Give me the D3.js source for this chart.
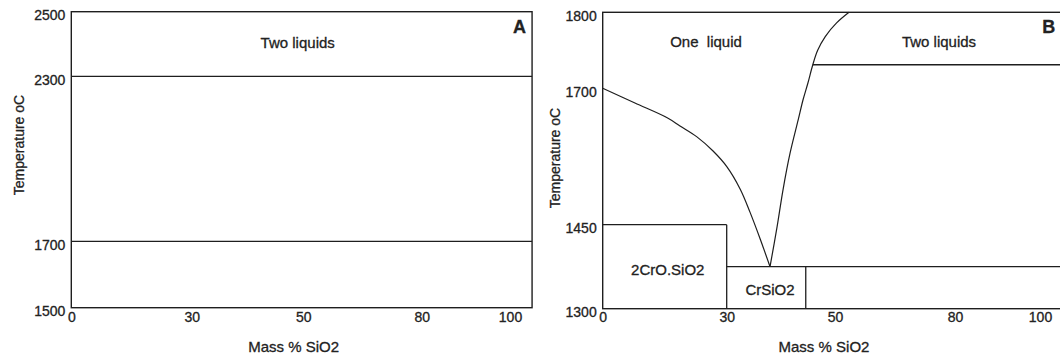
<!DOCTYPE html>
<html>
<head>
<meta charset="utf-8">
<script src="https://cdn.jsdelivr.net/npm/d3@7"></script>
<style>
  html, body { margin: 0; padding: 0; background: #fff; }
  svg { display: block; }
  text { font-family: "Liberation Sans", Arial, sans-serif; fill: #222; stroke: #222; stroke-width: 0.3px; }
</style>
</head>
<body>
<svg id="chart" width="1060" height="356"></svg>
<script>
// ---------- data ----------
const xTickValues = [0, 30, 50, 80, 100];
const xFrameMax = 105;                      // frame extends slightly past 100
const aTempTicks = [1500, 1700, 2300, 2500];
const bTempTicks = [1300, 1450, 1700, 1800];
const aIsotherms = [2300, 1700];
const aRegionLabels = [{ text: "Two liquids", x: 49, t: 2388 }];
const bLiquidusLeft = [
  [0, 1700], [7.8, 1673], [15.6, 1646], [18.7, 1631], [22.8, 1611],
  [26.7, 1585], [30.05, 1556], [32.5, 1515], [34.3, 1473], [36.2, 1424], [38, 1375]
];
const bLiquidusRight = [
  [38, 1375], [39.3, 1446], [40.4, 1514], [41.7, 1581], [43.2, 1642],
  [44.1, 1679], [45.0, 1707], [45.9, 1731], [46.8, 1750], [48.2, 1768],
  [50.4, 1786], [53.5, 1800]
];
const bBoundaries = [
  { x1: 0, t1: 1450, x2: 30, t2: 1450 },
  { x1: 30, t1: 1300, x2: 30, t2: 1450 },
  { x1: 30, t1: 1375, x2: 105, t2: 1375 },
  { x1: 44.6, t1: 1300, x2: 44.6, t2: 1375 },
  { x1: 45.9, t1: 1731, x2: 105, t2: 1731 }
];
const bRegionLabels = [
  { text: "One  liquid", x: 25, t: 1755 },
  { text: "Two liquids", x: 76, t: 1755 },
  { text: "2CrO.SiO2", x: 15.75, t: 1360 },
  { text: "CrSiO2", x: 38, t: 1324 }
];
const xTitle = "Mass % SiO2";
const yTitle = "Temperature oC";

// ---------- drawing ----------
const svg = d3.select("#chart");
const ink = "#1e1e1e";

function panel(opts) {
  const { xRange, yDomain, yRange, yTicks, letter, titleX, titleY, xPad } = opts;
  const x = d3.scaleLinear().domain(xTickValues).range(xRange);
  const y = d3.scaleLinear().domain(yDomain).range(yRange);
  const g = svg.append("g");
  const tMin = yDomain[0], tMax = yDomain[yDomain.length - 1];

  // frame
  g.append("rect")
    .attr("x", x(0)).attr("y", y(tMax))
    .attr("width", x(xFrameMax) - x(0)).attr("height", y(tMin) - y(tMax))
    .attr("fill", "none").attr("stroke", ink).attr("stroke-width", 1.4);

  // y axis labels
  const ya = g.append("g").attr("transform", `translate(${x(0)},0)`)
    .call(d3.axisLeft(y).tickValues(yTicks).tickSize(0).tickPadding(6).tickFormat(d3.format("d")));
  ya.select(".domain").remove();
  ya.selectAll("text").style("font-size", "14px").attr("dy", "0.55em")
    .style("font-family", "Liberation Sans, Arial, sans-serif").attr("fill", "#222");

  // x axis labels
  const xa = g.append("g").attr("transform", `translate(0,${y(tMin)})`)
    .call(d3.axisBottom(x).tickValues(xTickValues).tickSize(0).tickPadding(xPad).tickFormat(d3.format("d")));
  xa.select(".domain").remove();
  xa.selectAll("text").style("font-size", "14px")
    .style("font-family", "Liberation Sans, Arial, sans-serif").attr("fill", "#222");

  // axis titles
  g.append("text").attr("x", (x(0) + x(xFrameMax)) / 2 - 8).attr("y", 352)
    .attr("text-anchor", "middle").style("font-size", "15px").text(xTitle);
  g.append("text").attr("transform", `translate(${titleX},${titleY}) rotate(-90)`)
    .attr("dy", "0.35em").attr("text-anchor", "middle").style("font-size", "14px").text(yTitle);

  // panel letter
  g.append("text").attr("x", x(xFrameMax) - 6).attr("y", 33)
    .attr("text-anchor", "end").style("font-size", "18px").style("font-weight", "bold").text(letter);

  return { g, x, y };
}

// Panel A
const A = panel({
  xRange: [71.3, 191.7, 303.3, 421.7, 510],
  yDomain: aTempTicks, yRange: [307.7, 241.3, 76.3, 11.7],
  yTicks: aTempTicks, letter: "A", titleX: 19, titleY: 145, xPad: 4
});
A.g.selectAll("line.iso").data(aIsotherms).join("line").attr("class", "iso")
  .attr("x1", A.x(0)).attr("x2", A.x(xFrameMax))
  .attr("y1", d => A.y(d)).attr("y2", d => A.y(d))
  .attr("stroke", ink).attr("stroke-width", 1.3);
A.g.selectAll("text.region").data(aRegionLabels).join("text").attr("class", "region")
  .attr("x", d => A.x(d.x)).attr("y", d => A.y(d.t))
  .attr("text-anchor", "middle").style("font-size", "15px").text(d => d.text);

// Panel B
const B = panel({
  xRange: [602.7, 726.7, 835, 955, 1040],
  yDomain: bTempTicks, yRange: [308.7, 224.7, 88.3, 12.3],
  yTicks: bTempTicks, letter: "B", titleX: 555, titleY: 158, xPad: 3
});
B.g.selectAll("line.bound").data(bBoundaries).join("line").attr("class", "bound")
  .attr("x1", d => B.x(d.x1)).attr("x2", d => B.x(d.x2))
  .attr("y1", d => B.y(d.t1)).attr("y2", d => B.y(d.t2))
  .attr("stroke", ink).attr("stroke-width", 1.3);
const liq = d3.line().x(d => B.x(d[0])).y(d => B.y(d[1])).curve(d3.curveCatmullRom.alpha(0.5));
B.g.selectAll("path.liq").data([bLiquidusLeft, bLiquidusRight]).join("path").attr("class", "liq")
  .attr("d", liq).attr("fill", "none").attr("stroke", ink).attr("stroke-width", 1.2);
B.g.selectAll("text.region").data(bRegionLabels).join("text").attr("class", "region")
  .attr("x", d => B.x(d.x)).attr("y", d => B.y(d.t))
  .attr("text-anchor", "middle").style("font-size", "15px").style("white-space", "pre")
  .attr("xml:space", "preserve").text(d => d.text);
</script>
</body>
</html>
